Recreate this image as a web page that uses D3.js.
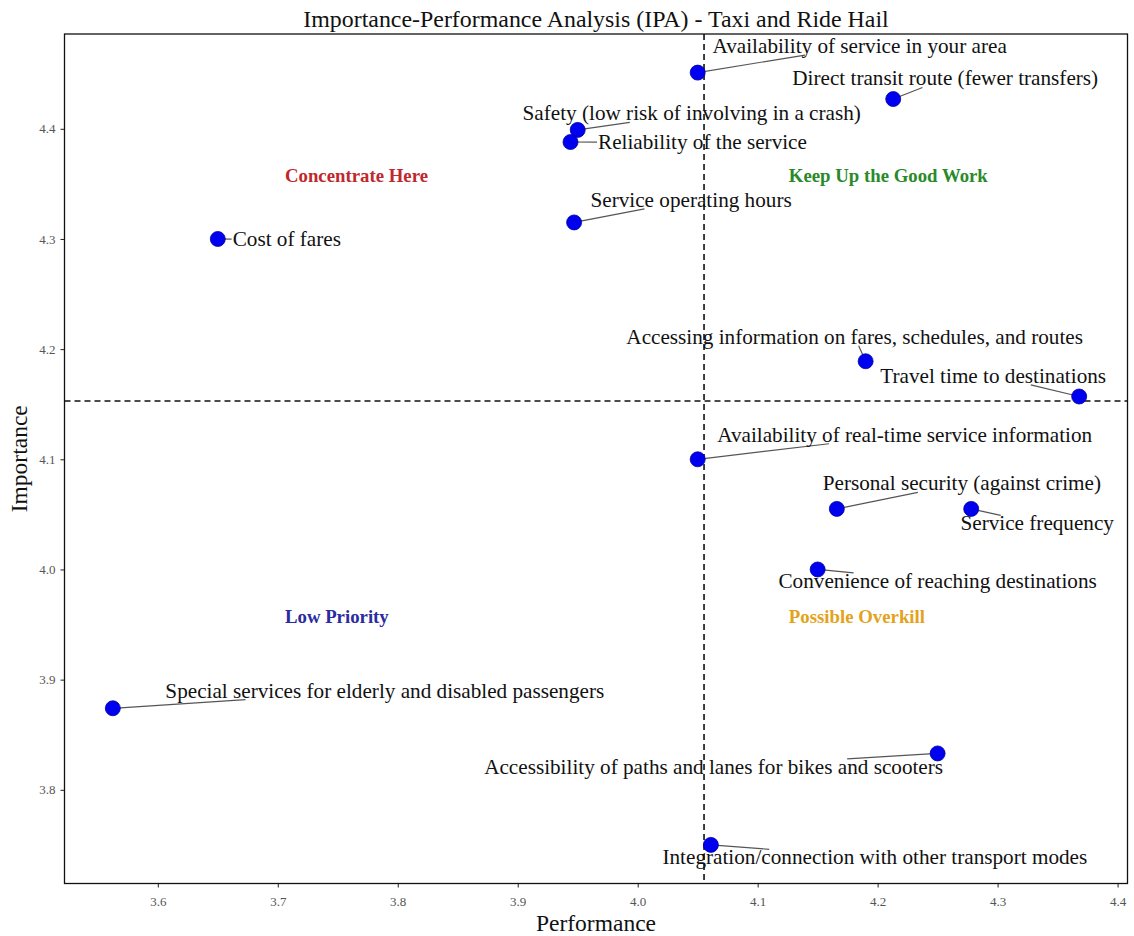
<!DOCTYPE html>
<html>
<head>
<meta charset="utf-8">
<script src="https://cdn.jsdelivr.net/npm/d3@7/dist/d3.min.js"></script>
<style>
  html, body { margin: 0; padding: 0; background: #ffffff; }
  svg { display: block; }
</style>
</head>
<body>
<svg id="chart" width="1134" height="936"></svg>
<script>
// ---------------- DATA ----------------
const attributes = [
  "Availability of service in your area",
  "Direct transit route (fewer transfers)",
  "Safety (low risk of involving in a crash)",
  "Reliability of the service",
  "Service operating hours",
  "Cost of fares",
  "Accessing information on fares, schedules, and routes",
  "Travel time to destinations",
  "Availability of real-time service information",
  "Personal security (against crime)",
  "Service frequency",
  "Convenience of reaching destinations",
  "Special services for elderly and disabled passengers",
  "Accessibility of paths and lanes for bikes and scooters",
  "Integration/connection with other transport modes"
];
const performance = [4.050, 4.213, 3.950, 3.944, 3.947, 3.650, 4.190, 4.368, 4.050, 4.166, 4.278, 4.150, 3.5625, 4.250, 4.061];
const importance  = [4.451, 4.427, 4.399, 4.388, 4.315, 4.300, 4.189, 4.157, 4.100, 4.055, 4.055, 4.000, 3.874, 3.833, 3.750];

const xTicks = [3.6, 3.7, 3.8, 3.9, 4.0, 4.1, 4.2, 4.3, 4.4];
const yTicks = [3.8, 3.9, 4.0, 4.1, 4.2, 4.3, 4.4];

const quadrantNames  = ["Concentrate Here", "Keep Up the Good Work", "Low Priority", "Possible Overkill"];
const quadrantColors = ["#c0282d", "#2a8a2a", "#2b2ba0", "#e3a21a"];
// quadrant label anchors (data units, left-aligned)
const quadrantX = [3.706, 4.126, 3.706, 4.126];
const quadrantY = [4.358, 4.358, 3.9575, 3.9575];

// label offsets from each point (pixels, label centre)
const labelDX = [162, 52, 114, 132, 117, 69, -11, -86, 207, 125, 66, 120, 272, -224, 164];
const labelDY = [-27, -21, -17, 0, -23, 0, -25, -21, -25, -26, 14, 11, -18, 13, 12];

const titleText = "Importance-Performance Analysis (IPA) - Taxi and Ride Hail";
const xLabel = "Performance";
const yLabel = "Importance";

// ---------------- LAYOUT ----------------
const W = 1134, H = 936;
const margin = { left: 64.5, right: W - 1127.5, top: 34, bottom: H - 883.5 };
const serif = "'Liberation Serif', 'Times New Roman', serif";

const svg = d3.select("#chart");
const pw = W - margin.left - margin.right;
const ph = H - margin.top - margin.bottom;
const g = svg.append("g").attr("transform", `translate(${margin.left},${margin.top})`);

const data = attributes.map((a, i) => ({ name: a, x: performance[i], y: importance[i], dx: labelDX[i], dy: labelDY[i] }));

const [xmin, xmax] = d3.extent(performance);
const [ymin, ymax] = d3.extent(importance);
const xm = (xmax - xmin) * 0.05, ym = (ymax - ymin) * 0.05;
const x = d3.scaleLinear().domain([xmin - xm, xmax + xm]).range([0, pw]);
const y = d3.scaleLinear().domain([ymin - ym, ymax + ym]).range([ph, 0]);

const meanX = d3.mean(performance);
const meanY = d3.mean(importance);

// axes
const xAxis = g.append("g").attr("transform", `translate(0,${ph})`)
  .call(d3.axisBottom(x).tickValues(xTicks).tickFormat(d3.format(".1f")).tickSize(4).tickPadding(9));
const yAxis = g.append("g")
  .call(d3.axisLeft(y).tickValues(yTicks).tickFormat(d3.format(".1f")).tickSize(4).tickPadding(5));
[xAxis, yAxis].forEach(a => {
  a.select(".domain").remove();
  a.selectAll(".tick line").attr("stroke", "#222").attr("stroke-width", 1);
  a.selectAll(".tick text").attr("font-family", serif).attr("font-size", 13).attr("fill", "#555");
});

// frame
g.append("rect").attr("x", 0).attr("y", 0).attr("width", pw).attr("height", ph)
  .attr("fill", "none").attr("stroke", "#111").attr("stroke-width", 1.3);

// mean lines
g.append("line").attr("x1", x(meanX)).attr("x2", x(meanX)).attr("y1", 0).attr("y2", ph)
  .attr("stroke", "#111").attr("stroke-width", 1.6).attr("stroke-dasharray", "6,4");
g.append("line").attr("x1", 0).attr("x2", pw).attr("y1", y(meanY)).attr("y2", y(meanY))
  .attr("stroke", "#111").attr("stroke-width", 1.6).attr("stroke-dasharray", "6,4");

// quadrant labels
g.selectAll(".quad").data(quadrantNames).enter().append("text")
  .attr("class", "quad")
  .attr("x", (d, i) => x(quadrantX[i]))
  .attr("y", (d, i) => y(quadrantY[i]))
  .attr("dy", "0.35em")
  .attr("font-family", serif).attr("font-weight", "bold").attr("font-size", 18.8)
  .attr("fill", (d, i) => quadrantColors[i])
  .text(d => d);

// point labels
const lineLayer = g.append("g");
const labels = g.append("g").selectAll("text").data(data).enter().append("text")
  .attr("x", d => x(d.x) + d.dx)
  .attr("y", d => y(d.y) + d.dy)
  .attr("dy", "0.35em")
  .attr("text-anchor", "middle")
  .attr("font-family", serif).attr("font-size", 21.2).attr("fill", "#111")
  .text(d => d.name);

// leader lines: from point to label bbox edge
labels.each(function(d) {
  const bb = this.getBBox();
  const pad = 1;
  const bx0 = bb.x - pad, bx1 = bb.x + bb.width + pad, by0 = bb.y + 4, by1 = bb.y + bb.height - 3;
  const px = x(d.x), py = y(d.y);
  const cx = bb.x + bb.width / 2, cy = bb.y + bb.height / 2;
  const vx = cx - px, vy = cy - py;
  let t = 1;
  if (vx !== 0) {
    const tx = vx > 0 ? (bx0 - px) / vx : (bx1 - px) / vx;
    const yy = py + tx * vy;
    if (tx > 0 && tx < t && yy >= by0 && yy <= by1) t = tx;
  }
  if (vy !== 0) {
    const ty = vy > 0 ? (by0 - py) / vy : (by1 - py) / vy;
    const xx = px + ty * vx;
    if (ty > 0 && ty < t && xx >= bx0 && xx <= bx1) t = ty;
  }
  lineLayer.append("line")
    .attr("x1", px).attr("y1", py)
    .attr("x2", px + t * vx).attr("y2", py + t * vy)
    .attr("stroke", "#555").attr("stroke-width", 1.2);
});

// points
g.append("g").selectAll("circle").data(data).enter().append("circle")
  .attr("cx", d => x(d.x)).attr("cy", d => y(d.y)).attr("r", 7.5)
  .attr("fill", "#0000f0").attr("stroke", "#0000a0").attr("stroke-width", 0.8);

// title and axis labels
svg.append("text").attr("x", margin.left + pw / 2).attr("y", 27)
  .attr("text-anchor", "middle").attr("font-family", serif).attr("font-size", 23.9).attr("fill", "#111")
  .text(titleText);
svg.append("text").attr("x", margin.left + pw / 2).attr("y", 931)
  .attr("text-anchor", "middle").attr("font-family", serif).attr("font-size", 23.5).attr("fill", "#111")
  .text(xLabel);
svg.append("text").attr("transform", `translate(27,${margin.top + ph / 2}) rotate(-90)`)
  .attr("text-anchor", "middle").attr("font-family", serif).attr("font-size", 23.5).attr("fill", "#111")
  .text(yLabel);
</script>
</body>
</html>
